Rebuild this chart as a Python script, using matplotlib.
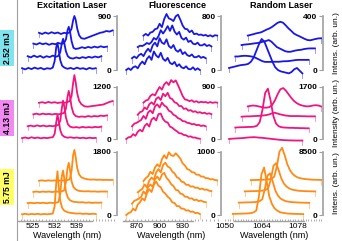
import numpy as np
import matplotlib
matplotlib.use("Agg")
import matplotlib.pyplot as plt
from matplotlib.lines import Line2D
from matplotlib.ticker import MultipleLocator

plt.rcParams['font.family'] = ['Liberation Sans', 'DejaVu Sans']

# ---- data ----
energies = ["2.52 mJ", "4.13 mJ", "5.75 mJ"]
titles = ["Excitation Laser", "Fluorescence", "Random Laser"]
ymax = [[900, 800, 400], [1200, 900, 1700], [1800, 1000, 8500]]

# excitation laser, wavelength of the front trace (nm)
ex_wl = [521.5, 522.5, 523.5, 524.5, 525.5, 526.5, 527.5, 528.5, 529.5, 530.5, 531.3, 531.9, 532.4, 532.8,
         533.2, 533.7, 534.3, 535.0, 536.0, 537.0, 538.0, 539.0, 540.0, 541.0, 542.0, 543.0, 544.0, 545.0]
ex_low = [
    [30, 10, 35, 15, 40, 20, 35, 10, 30, 20, 40, 150, 380, 450, 330, 160, 70, 40, 20, 35, 15, 40, 20, 30, 10, 35, 20, 30],
    [40, 20, 50, 25, 45, 15, 40, 25, 50, 30, 45, 110, 260, 330, 250, 120, 40, 10, 0, 20, 5, 25, 10, 30, 15, 35, 20, 40],
    [60, 45, 70, 50, 65, 40, 60, 50, 70, 55, 70, 130, 280, 340, 260, 100, -10, -30, -20, 0, -15, 5, -10, 10, -5, 15, 0, 10],
    [50, 30, 55, 35, 60, 40, 55, 30, 50, 40, 60, 120, 260, 330, 270, 120, 10, -40, -50, -30, -10, 10, 30, 50, 60, 80, 70, 90],
]
ex_mid = [
    [20, 35, 15, 40, 20, 35, 15, 30, 20, 35, 40, 120, 380, 560, 420, 200, 90, 50, 30, 40, 25, 35, 20, 30, 15, 30, 20, 25],
    [30, 45, 25, 50, 30, 45, 25, 40, 30, 45, 60, 160, 450, 620, 480, 230, 80, 20, 0, 10, -5, 15, 0, 10, 0, 15, 5, 20],
    [40, 55, 35, 55, 40, 50, 35, 50, 40, 55, 70, 170, 440, 580, 450, 210, 60, 0, -20, -10, -20, 0, -15, 0, -10, 10, 0, 15],
    [40, 55, 35, 60, 40, 55, 35, 50, 40, 55, 80, 200, 500, 680, 520, 260, 90, 10, -40, -50, -40, -30, -20, -10, 0, 30, 60, 80],
]
ex_high = [
    [20, 35, 15, 30, 20, 35, 15, 30, 20, 30, 40, 250, 900, 1250, 800, 400, 200, 120, 80, 60, 50, 40, 45, 30, 40, 25, 35, 30],
    [20, 30, 15, 30, 20, 30, 15, 30, 25, 30, 50, 300, 800, 950, 700, 350, 180, 100, 60, 50, 40, 45, 30, 40, 25, 35, 30, 35],
    [20, 30, 15, 30, 20, 30, 15, 30, 25, 35, 60, 300, 700, 850, 650, 320, 160, 90, 50, 40, 35, 40, 30, 35, 25, 30, 30, 30],
    [20, 30, 15, 30, 20, 30, 15, 30, 25, 35, 60, 300, 750, 900, 700, 380, 200, 120, 80, 60, 50, 55, 45, 50, 40, 45, 40, 45],
]

# fluorescence
fl_wl = [856, 859, 862, 865, 868, 871, 874, 877, 880, 883, 886, 889, 892, 895, 898, 901, 904,
         907, 910, 913, 916, 919, 922, 925, 928, 931, 934, 937, 940, 943, 946, 949, 952]
fl_low = [
    [0, 25, 0, 40, 55, 25, 85, 125, 85, 165, 205, 150, 275, 215, 185, 255, 165, 135, 180, 105, 85, 120, 55, 85, 40, 25, 55, 15, 10, 40, 0, 25, 0],
    [5, 30, 5, 50, 70, 35, 100, 145, 100, 195, 235, 180, 300, 235, 215, 285, 185, 155, 200, 125, 100, 135, 65, 95, 50, 35, 60, 20, 20, 40, 10, 25, 5],
    [0, 20, 15, 35, 60, 45, 75, 135, 110, 160, 250, 200, 250, 310, 240, 320, 230, 185, 225, 135, 110, 140, 75, 95, 50, 40, 65, 25, 25, 45, 15, 30, 10],
    [0, 25, 0, 45, 55, 95, 105, 175, 125, 245, 320, 255, 240, 215, 285, 310, 235, 150, 100, 95, 50, 75, 20, 30, 10, 15, 0, 10, -10, 5, -15, 5, 0],
]
fl_mid = [
    [0, 30, 35, 85, 55, 125, 160, 130, 225, 265, 215, 335, 370, 320, 430, 440, 345, 300, 285, 215, 195, 160, 135, 100, 95, 70, 65, 40, 45, 25, 25, 10, 5],
    [10, 55, 70, 95, 120, 190, 140, 250, 285, 235, 355, 390, 335, 420, 370, 345, 280, 260, 210, 190, 150, 135, 100, 95, 70, 65, 45, 50, 30, 35, 15, 25, 10],
    [0, 45, 60, 125, 95, 180, 215, 175, 275, 305, 255, 365, 320, 380, 290, 270, 215, 200, 150, 150, 100, 110, 70, 80, 50, 60, 35, 45, 25, 35, 15, 25, 10],
    [0, 35, 50, 115, 145, 125, 205, 270, 225, 315, 355, 305, 390, 350, 385, 300, 210, 115, 55, 45, 25, 40, 10, 25, 0, 15, 5, 10, -5, 10, -5, 5, 0],
]
fl_high = [
    [0, 30, 45, 100, 70, 165, 205, 265, 230, 345, 410, 365, 480, 530, 465, 440, 370, 340, 290, 260, 200, 190, 140, 140, 100, 100, 70, 75, 50, 55, 30, 35, 15],
    [0, 45, 60, 80, 110, 195, 150, 265, 305, 265, 385, 430, 375, 460, 490, 410, 370, 310, 280, 220, 210, 160, 150, 110, 110, 80, 85, 55, 65, 40, 50, 30, 25],
    [0, 30, 55, 125, 80, 185, 235, 200, 315, 370, 315, 435, 470, 410, 390, 330, 300, 240, 220, 170, 160, 120, 120, 90, 95, 70, 75, 50, 60, 40, 45, 25, 20],
    [0, 45, 75, 145, 110, 215, 265, 225, 345, 410, 355, 455, 410, 395, 440, 400, 355, 280, 245, 190, 175, 140, 135, 100, 100, 70, 70, 45, 45, 25, 30, 15, 10],
]

# random laser
rl_wl = [1053, 1054, 1055, 1056, 1057, 1058, 1059, 1060, 1061, 1062, 1063, 1064, 1065, 1066,
         1067, 1068, 1069, 1070, 1071, 1072, 1073, 1074, 1075, 1076, 1077, 1078, 1079, 1080]
rl_low = [
    [15, 20, 25, 30, 35, 38, 40, 45, 60, 90, 140, 190, 230, 210, 160, 110, 60, 20, 0, -10, -15, -20, -25, -15, 5, 15, -5, -25],
    [15, 15, 18, 20, 20, 18, 15, 10, 0, -10, -20, -25, -25, -25, -24, -24, -24, -22, -20, -20, -18, -15, -12, -10, -10, -10, -10, -10],
    [15, 18, 20, 22, 25, 28, 30, 35, 40, 45, 52, 40, 20, 0, -10, -20, -30, -35, -35, -30, -25, -22, -20, -15, -12, -10, -10, -10],
    [0, 5, 10, 16, 20, 25, 35, 45, 53, 65, 80, 95, 102, 95, 75, 53, 35, 15, 4, -5, -15, -25, -33, -35, -30, -25, -21, -20],
]
rl_mid = [
    [0, 10, 15, 20, 25, 30, 40, 50, 55, 60, 55, 45, 40, 30, 20, 10, 0, -10, -20, -30, -35, -40, -45, -45, -50, -50, -50, -50],
    [20, 25, 30, 30, 35, 40, 40, 50, 80, 200, 600, 1150, 1290, 900, 400, 150, 60, 30, 20, 15, 10, 10, 5, 5, 0, 0, -5, -5],
    [20, 25, 30, 30, 35, 40, 45, 50, 60, 70, 90, 120, 150, 130, 100, 80, 60, 50, 40, 40, 40, 40, 35, 35, 30, 30, 30, 30],
    [0, 20, 30, 20, 0, -20, -40, -40, -20, 50, 200, 400, 560, 600, 520, 400, 280, 180, 110, 60, 30, 10, 0, 10, 30, 40, 30, 0],
]
rl_high = [
    [150, 160, 170, 180, 190, 200, 220, 260, 350, 600, 2500, 5500, 6400, 4500, 2500, 1500, 900, 600, 400, 300, 250, 200, 180, 160, 150, 140, 130, 120],
    [150, 160, 170, 180, 190, 200, 220, 260, 350, 600, 2000, 3800, 4100, 3000, 1800, 1100, 700, 500, 350, 280, 230, 200, 180, 160, 150, 140, 130, 120],
    [150, 160, 170, 180, 190, 200, 220, 260, 350, 600, 1800, 3600, 3950, 3000, 1900, 1200, 800, 550, 400, 320, 260, 220, 200, 180, 170, 160, 150, 140],
    [150, 160, 170, 180, 190, 200, 220, 260, 350, 600, 2000, 4000, 4500, 3500, 2300, 1500, 1000, 700, 500, 400, 330, 280, 250, 220, 200, 190, 180, 170],
]

spectra = [[ex_low, fl_low, rl_low], [ex_mid, fl_mid, rl_mid], [ex_high, fl_high, rl_high]]
wl = [ex_wl, fl_wl, rl_wl]
xticks = [[525, 532, 539], [870, 900, 930], [1050, 1064, 1078]]

# ---- style / layout ----
colors = ["#1717e8", "#f0157f", "#ff8a14"]
box_colors = ["#80e4ef", "#f08af0", "#ffff66"]
grey = "#a0a0a0"
W, H = 342, 241
col_px = [(18, 117), (122, 221), (225, 323)]     # panel left/right in pixels
row_px = [(16, 70), (87, 139), (152, 215)]      # panel top/bottom in pixels
title_x = [72, 177, 281]
xlims = [(520.2, 551.8), (850.5, 979.5), (1051.5, 1087.6)]
xbounds = [(520.2, 543.8), (851.8, 943), (1053.3, 1080.2)]
x_shift = [1.8, 7.5, 2.3]                        # waterfall offset per trace (nm)
y_shift = [[190, 170, 85], [265, 210, 355], [320, 180, 1520]]

fig = plt.figure(figsize=(W / 100, H / 100), dpi=100)

for r in range(3):
    for c in range(3):
        x0, x1 = col_px[c]
        y0, y1 = row_px[r]
        ax = fig.add_axes([x0 / W, 1 - y1 / H, (x1 - x0) / W, (y1 - y0) / H])
        ax.set_xlim(*xlims[c])
        ax.set_ylim(0, ymax[r][c])
        ax.patch.set_alpha(0)
        for i, vals in enumerate(spectra[r][c]):
            x = np.array(wl[c]) + i * x_shift[c]
            y = np.array(vals) + i * y_shift[r][c]
            drop = 0.08 * ymax[r][c]
            ax.plot([x[0], x[0]], [y[0], y[0] - drop], color=colors[r], lw=0.6, alpha=0.5, clip_on=False)
            ax.plot([x[-1], x[-1]], [y[-1], y[-1] - drop], color=colors[r], lw=0.6, alpha=0.5, clip_on=False)
            ax.plot(x, y, color=colors[r], lw=1.3, clip_on=False, solid_joinstyle="round")

        for s in ["top", "right"]:
            ax.spines[s].set_visible(False)
        ax.spines["left"].set_position(("axes", 1.0))
        ax.spines["left"].set_color(grey)
        ax.spines["left"].set_linewidth(1.2)
        ax.set_yticks([0, ymax[r][c]])
        ax.set_yticklabels(["0", str(ymax[r][c])], fontsize=6, fontweight="bold")
        ax.tick_params(axis="y", length=3, width=0.8, color=grey, pad=1)

        if r == 2:
            ax.spines["bottom"].set_position(("outward", 4))
            ax.spines["bottom"].set_bounds(*xbounds[c])
            ax.spines["bottom"].set_color(grey)
            ax.spines["bottom"].set_linewidth(1.0)
            ax.set_xticks(xticks[c])
            ax.xaxis.set_minor_locator(MultipleLocator([1, 5, 1][c]))
            ax.tick_params(axis="x", which="both", direction="in", length=1.5, width=0.6,
                           color=grey, labelsize=6, pad=2)
            ax.tick_params(axis="x", which="minor", length=1.2)
            ax.set_xlabel("Wavelength (nm)", fontsize=6.5, labelpad=0.5)
        else:
            ax.spines["bottom"].set_visible(False)
            ax.set_xticks([])

# column titles
for c in range(3):
    fig.text(title_x[c] / W, 1 - 5 / H, titles[c], ha="center", va="center",
             fontsize=6.5, fontweight="bold")

# labels on the right
ylab = ["Intens. (arb. un.)", "Intensity (arb. un.)", "Intens. (arb. un.)"]
for r in range(3):
    yc = 1 - (row_px[r][0] + row_px[r][1]) / 2 / H
    fig.text(336 / W, yc, ylab[r], rotation=90, ha="center", va="center", fontsize=6)

# energy boxes on the left
for r, yc in enumerate([48, 118, 187]):
    fig.text(7 / W, 1 - yc / H, energies[r], rotation=90, ha="center", va="center",
             fontsize=6.2, fontweight="bold",
             bbox=dict(boxstyle="square,pad=0.25", fc=box_colors[r], ec="none"))

fig.add_artist(Line2D([17 / W, 17 / W], [0, 1], color=grey, lw=0.8))

fig.savefig("out.png", dpi=100)
